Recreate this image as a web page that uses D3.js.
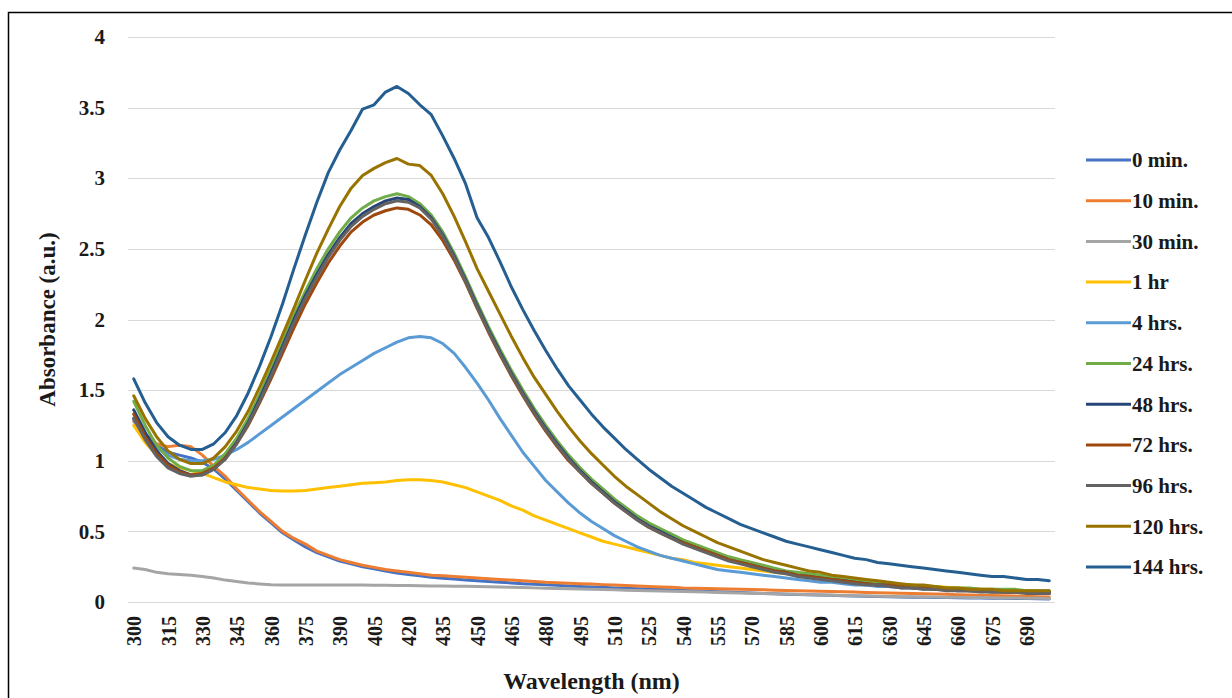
<!DOCTYPE html>
<meta charset="utf-8">
<head>
<script src="https://d3js.org/d3.v7.min.js"></script>
<style>
  body { margin: 0; background: #fff; }
  text { font-family: "Liberation Serif", "Times New Roman", serif; font-weight: bold; fill: #1a1a1a; }
  .grid line { stroke: #d9d9d9; stroke-width: 1; }
  .series { fill: none; stroke-width: 3; stroke-linejoin: round; stroke-linecap: round; }
</style>
</head>
<body>
<div id="chart"></div>
<script>
// wavelengths, 300..700 nm every 5 nm
var wavelengths = [300,305,310,315,320,325,330,335,340,345,350,355,360,365,370,375,380,385,390,395,
  400,405,410,415,420,425,430,435,440,445,450,455,460,465,470,475,480,485,490,495,
  500,505,510,515,520,525,530,535,540,545,550,555,560,565,570,575,580,585,590,595,
  600,605,610,615,620,625,630,635,640,645,650,655,660,665,670,675,680,685,690,695,700];

var yTicks = [0, 0.5, 1, 1.5, 2, 2.5, 3, 3.5, 4];

var seriesNames = ["0 min.", "10 min.", "30 min.", "1 hr", "4 hrs.", "24 hrs.", "48 hrs.", "72 hrs.", "96 hrs.", "120 hrs.", "144 hrs."];
var seriesColors = ["#4472c4", "#ed7d31", "#a5a5a5", "#ffc000", "#5b9bd5", "#70ad47", "#264478", "#9e480e", "#636363", "#997300", "#255e91"];

var min0 = [1.30,1.19,1.11,1.06,1.04,1.02,0.99,0.94,0.87,0.79,
  0.71,0.63,0.56,0.49,0.44,0.39,0.35,0.32,0.29,0.27,
  0.25,0.235,0.22,0.205,0.195,0.185,0.175,0.168,0.162,0.156,
  0.15,0.145,0.14,0.135,0.13,0.126,0.122,0.118,0.114,0.11,
  0.107,0.104,0.10,0.097,0.094,0.091,0.088,0.085,0.082,0.079,
  0.076,0.073,0.070,0.067,0.064,0.061,0.058,0.055,0.053,0.051,
  0.049,0.047,0.045,0.043,0.041,0.039,0.037,0.035,0.034,0.033,
  0.032,0.031,0.030,0.029,0.028,0.027,0.026,0.025,0.024,0.023,0.022];

var min10 = [1.28,1.18,1.12,1.10,1.11,1.10,1.04,0.96,0.89,0.80,
  0.72,0.64,0.57,0.50,0.45,0.41,0.36,0.33,0.30,0.28,
  0.26,0.245,0.23,0.22,0.21,0.20,0.19,0.185,0.18,0.175,
  0.17,0.165,0.16,0.155,0.15,0.145,0.14,0.137,0.133,0.13,
  0.127,0.123,0.12,0.117,0.113,0.11,0.107,0.104,0.10,0.098,
  0.096,0.094,0.092,0.09,0.088,0.086,0.084,0.082,0.08,0.078,
  0.076,0.074,0.072,0.07,0.068,0.066,0.064,0.062,0.06,0.058,
  0.056,0.054,0.052,0.05,0.048,0.046,0.044,0.042,0.04,0.038,0.036];

var min30 = [0.24,0.23,0.21,0.20,0.195,0.19,0.18,0.17,0.155,0.145,
  0.135,0.128,0.122,0.12,0.12,0.12,0.12,0.12,0.12,0.12,
  0.12,0.119,0.118,0.117,0.116,0.115,0.114,0.113,0.112,0.111,
  0.11,0.108,0.106,0.104,0.102,0.10,0.098,0.096,0.094,0.092,
  0.09,0.088,0.086,0.084,0.082,0.08,0.078,0.076,0.074,0.072,
  0.07,0.068,0.066,0.064,0.062,0.06,0.058,0.056,0.054,0.052,
  0.05,0.048,0.046,0.044,0.042,0.04,0.039,0.038,0.037,0.036,
  0.035,0.034,0.033,0.032,0.031,0.03,0.029,0.028,0.027,0.026,0.025];

var hr1 = [1.25,1.13,1.04,0.98,0.95,0.93,0.91,0.88,0.85,0.83,
  0.81,0.80,0.79,0.785,0.785,0.79,0.80,0.81,0.82,0.83,
  0.84,0.845,0.85,0.86,0.865,0.865,0.86,0.85,0.83,0.81,
  0.78,0.75,0.72,0.68,0.65,0.61,0.58,0.55,0.52,0.49,
  0.46,0.43,0.41,0.39,0.37,0.35,0.33,0.31,0.30,0.28,
  0.27,0.26,0.25,0.24,0.23,0.22,0.21,0.20,0.19,0.18,
  0.17,0.165,0.16,0.15,0.145,0.14,0.13,0.125,0.12,0.115,
  0.11,0.105,0.10,0.095,0.09,0.085,0.08,0.08,0.075,0.07,0.07];

var hr4 = [1.29,1.17,1.09,1.04,1.01,1.00,1.00,1.01,1.04,1.08,
  1.13,1.19,1.25,1.31,1.37,1.43,1.49,1.55,1.61,1.66,
  1.71,1.76,1.80,1.84,1.87,1.88,1.87,1.83,1.76,1.66,
  1.55,1.43,1.30,1.18,1.06,0.96,0.86,0.78,0.70,0.63,
  0.57,0.52,0.47,0.43,0.39,0.36,0.33,0.31,0.29,0.27,
  0.25,0.23,0.22,0.21,0.20,0.19,0.18,0.17,0.16,0.15,
  0.14,0.14,0.13,0.12,0.12,0.11,0.11,0.10,0.10,0.09,
  0.09,0.09,0.08,0.08,0.08,0.07,0.07,0.07,0.07,0.06,0.06];

var hr24 = [1.42,1.25,1.11,1.02,0.96,0.93,0.93,0.97,1.05,1.16,
  1.30,1.47,1.65,1.84,2.03,2.20,2.36,2.50,2.62,2.72,
  2.79,2.84,2.87,2.89,2.87,2.82,2.74,2.62,2.47,2.30,
  2.12,1.95,1.79,1.64,1.50,1.37,1.25,1.14,1.04,0.95,
  0.87,0.80,0.73,0.67,0.61,0.56,0.52,0.48,0.44,0.41,
  0.38,0.35,0.32,0.30,0.28,0.26,0.24,0.22,0.21,0.20,
  0.19,0.18,0.17,0.16,0.15,0.14,0.13,0.12,0.12,0.11,
  0.11,0.10,0.10,0.10,0.09,0.09,0.09,0.09,0.08,0.08,0.08];

var hr48 = [1.36,1.20,1.07,0.98,0.93,0.90,0.90,0.94,1.02,1.13,
  1.27,1.44,1.62,1.81,2.00,2.17,2.32,2.46,2.58,2.68,
  2.75,2.80,2.84,2.86,2.85,2.80,2.72,2.60,2.45,2.28,
  2.10,1.93,1.77,1.62,1.48,1.35,1.23,1.12,1.02,0.93,
  0.85,0.78,0.71,0.65,0.59,0.54,0.50,0.46,0.42,0.39,
  0.36,0.33,0.30,0.28,0.26,0.24,0.22,0.21,0.19,0.18,
  0.17,0.16,0.15,0.14,0.13,0.12,0.12,0.11,0.10,0.10,
  0.09,0.09,0.09,0.08,0.08,0.08,0.07,0.07,0.07,0.07,0.07];

var hr72 = [1.33,1.17,1.05,0.97,0.92,0.90,0.91,0.95,1.02,1.12,
  1.25,1.41,1.58,1.76,1.94,2.11,2.26,2.40,2.52,2.62,
  2.69,2.74,2.77,2.79,2.78,2.74,2.67,2.56,2.42,2.26,
  2.08,1.91,1.75,1.60,1.46,1.33,1.21,1.10,1.00,0.92,
  0.84,0.77,0.70,0.64,0.58,0.53,0.49,0.45,0.42,0.39,
  0.36,0.33,0.30,0.28,0.26,0.24,0.22,0.21,0.19,0.18,
  0.17,0.16,0.15,0.14,0.13,0.12,0.12,0.11,0.10,0.10,
  0.09,0.09,0.08,0.08,0.08,0.07,0.07,0.07,0.07,0.06,0.06];

var hr96 = [1.30,1.15,1.03,0.95,0.91,0.89,0.90,0.94,1.01,1.12,
  1.26,1.42,1.60,1.79,1.98,2.15,2.30,2.44,2.56,2.66,
  2.73,2.78,2.82,2.84,2.83,2.79,2.71,2.59,2.44,2.27,
  2.09,1.92,1.76,1.61,1.47,1.34,1.22,1.11,1.01,0.92,
  0.84,0.77,0.70,0.64,0.58,0.53,0.49,0.45,0.41,0.38,
  0.35,0.32,0.29,0.27,0.25,0.23,0.21,0.20,0.18,0.17,
  0.16,0.15,0.14,0.13,0.12,0.12,0.11,0.10,0.10,0.09,
  0.09,0.08,0.08,0.08,0.07,0.07,0.07,0.07,0.06,0.06,0.06];

var hr120 = [1.46,1.30,1.17,1.07,1.01,0.98,0.98,1.02,1.10,1.21,
  1.35,1.52,1.70,1.89,2.08,2.28,2.47,2.64,2.80,2.93,
  3.02,3.07,3.11,3.14,3.10,3.09,3.02,2.89,2.73,2.55,
  2.36,2.20,2.04,1.88,1.73,1.59,1.47,1.35,1.24,1.14,
  1.05,0.97,0.89,0.82,0.76,0.70,0.64,0.59,0.54,0.50,
  0.46,0.42,0.39,0.36,0.33,0.30,0.28,0.26,0.24,0.22,
  0.21,0.19,0.18,0.17,0.16,0.15,0.14,0.13,0.12,0.12,
  0.11,0.10,0.10,0.09,0.09,0.09,0.08,0.08,0.08,0.08,0.08];

var hr144 = [1.58,1.41,1.27,1.17,1.11,1.08,1.08,1.12,1.20,1.32,
  1.48,1.67,1.88,2.11,2.36,2.60,2.83,3.04,3.20,3.34,
  3.49,3.52,3.61,3.65,3.60,3.52,3.45,3.30,3.14,2.96,
  2.72,2.58,2.41,2.23,2.07,1.92,1.78,1.65,1.53,1.43,
  1.33,1.24,1.16,1.08,1.01,0.94,0.88,0.82,0.77,0.72,
  0.67,0.63,0.59,0.55,0.52,0.49,0.46,0.43,0.41,0.39,
  0.37,0.35,0.33,0.31,0.30,0.28,0.27,0.26,0.25,0.24,
  0.23,0.22,0.21,0.20,0.19,0.18,0.18,0.17,0.16,0.16,0.15];

var seriesValues = [min0, min10, min30, hr1, hr4, hr24, hr48, hr72, hr96, hr120, hr144];

var width = 1232, height = 698;
var plot = { left: 128, right: 1055, top: 37, bottom: 602 };

var svg = d3.select("#chart").append("svg")
  .attr("width", width)
  .attr("height", height);

// outer frame (only left and top edges fall inside the picture)
svg.append("rect")
  .attr("x", 8.5).attr("y", 12.5)
  .attr("width", 1240).attr("height", 700)
  .attr("fill", "none").attr("stroke", "#000").attr("stroke-width", 1.5);

var x = d3.scalePoint()
  .domain(wavelengths)
  .range([plot.left, plot.right])
  .padding(0.5);

var y = d3.scaleLinear()
  .domain([0, 4])
  .range([plot.bottom, plot.top]);

// horizontal gridlines
svg.append("g")
  .attr("class", "grid")
  .selectAll("line")
  .data(yTicks)
  .enter().append("line")
  .attr("x1", plot.left).attr("x2", plot.right)
  .attr("y1", function (d) { return Math.round(y(d)) + 0.5; })
  .attr("y2", function (d) { return Math.round(y(d)) + 0.5; });

// y axis labels
var yAxis = d3.axisLeft(y).tickValues(yTicks).tickSize(0).tickPadding(0)
  .tickFormat(function (d) { return d; });
svg.append("g")
  .attr("transform", "translate(105,0)")
  .call(yAxis)
  .call(function (g) { g.select(".domain").remove(); })
  .selectAll("text")
  .attr("font-size", 21)
  .attr("font-family", null);

// x axis labels, every third category
var xAxis = d3.axisBottom(x)
  .tickValues(wavelengths.filter(function (d, i) { return i % 3 === 0; }))
  .tickSize(0).tickPadding(0);
var gx = svg.append("g")
  .attr("transform", "translate(0," + plot.bottom + ")")
  .call(xAxis);
gx.select(".domain").remove();
gx.selectAll("text")
  .attr("font-size", 20)
  .attr("font-family", null)
  .attr("text-anchor", "end")
  .attr("transform", "rotate(-90)")
  .attr("x", -14)
  .attr("y", 0)
  .attr("dy", "0.35em");

// series
var line = d3.line()
  .x(function (d, i) { return x(wavelengths[i]); })
  .y(function (d) { return y(d); });

svg.append("g")
  .selectAll("path")
  .data(seriesValues)
  .enter().append("path")
  .attr("class", "series")
  .attr("stroke", function (d, i) { return seriesColors[i]; })
  .attr("d", line);

// axis titles
svg.append("text")
  .attr("x", (plot.left + plot.right) / 2)
  .attr("y", 689)
  .attr("text-anchor", "middle")
  .attr("font-size", 24)
  .text("Wavelength (nm)");

svg.append("text")
  .attr("transform", "translate(55," + ((plot.top + plot.bottom) / 2) + ") rotate(-90)")
  .attr("text-anchor", "middle")
  .attr("font-size", 23)
  .text("Absorbance (a.u.)");

// legend
var legend = svg.append("g")
  .selectAll("g")
  .data(seriesNames)
  .enter().append("g")
  .attr("transform", function (d, i) { return "translate(1086," + (160 + i * 40.7) + ")"; });

legend.append("line")
  .attr("x1", 0).attr("x2", 45)
  .attr("stroke", function (d, i) { return seriesColors[i]; })
  .attr("stroke-width", 3);

legend.append("text")
  .attr("x", 46)
  .attr("dy", "0.35em")
  .attr("font-size", 21)
  .text(function (d) { return d; });
</script>
</body>
